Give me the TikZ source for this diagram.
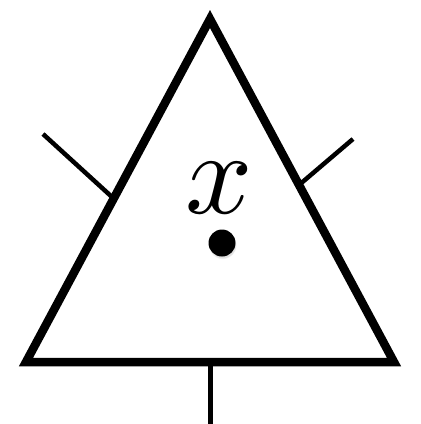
\documentclass[tikz,border=0pt]{standalone}
\usetikzlibrary{shadows}
\begin{document}
\begin{tikzpicture}[x=1pt,y=-1pt,
  tri/.style={line width=8.5pt,line join=miter},
  leg/.style={line width=4.5pt},
  lbl/.style={inner sep=0pt,scale=11.8},
  dotstyle/.style={circle,fill=black,inner sep=0pt,minimum size=27pt,
    circular drop shadow={shadow xshift=0.5pt,shadow yshift=-2pt,opacity=0.25,shadow scale=1.05}}]
\useasboundingbox (0,0) rectangle (421,424);
\coordinate (A) at (210,19);
\coordinate (BL) at (26,362);
\coordinate (BR) at (394,362);
\coordinate (l0) at (43,134);
\coordinate (l1) at (112,197);
\coordinate (r0) at (353,139);
\coordinate (r1) at (299,185);
\coordinate (b0) at (210,362);
\coordinate (b1) at (210,424);
\draw[leg] (l0) -- (l1);
\draw[leg] (r0) -- (r1);
\draw[line width=5pt] (b0) -- (b1);
\draw[tri] (A) -- (BL) -- (BR) -- cycle;
\node[lbl] (lab) at (219,188) {$x$};
\node[dotstyle] (dot) at (222,243) {};
\end{tikzpicture}
\end{document}
